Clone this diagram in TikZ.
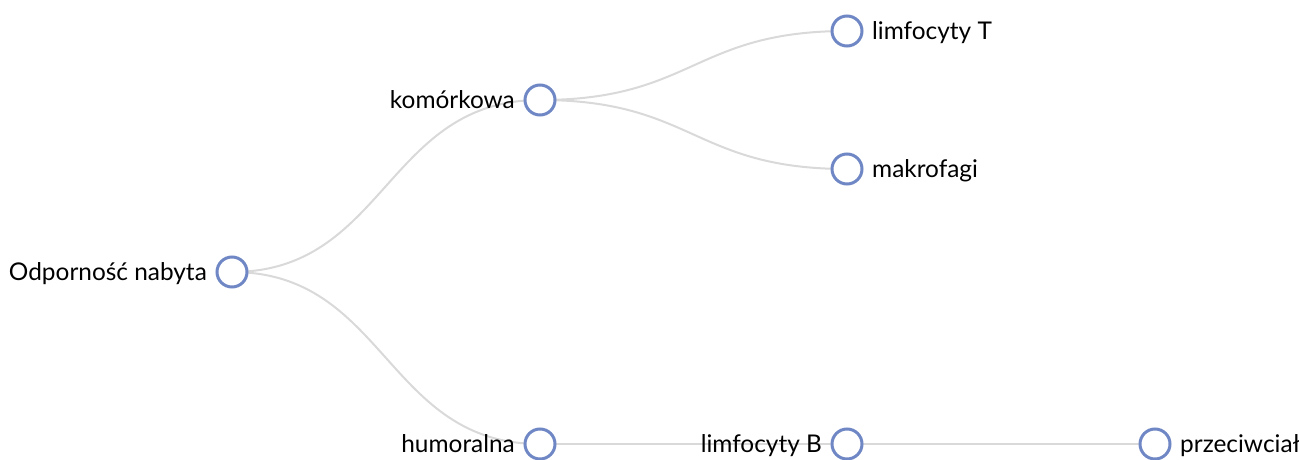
\documentclass[tikz,border=0pt]{standalone}
\usepackage{fontspec}
\setmainfont{Lato}
\usetikzlibrary{calc,backgrounds}
\definecolor{nodeblue}{RGB}{111,135,196}
\definecolor{linkgray}{RGB}{217,217,217}
\newcommand{\lbl}{\fontsize{24.4}{28}\selectfont}

\begin{document}
\begin{tikzpicture}[x=1pt,y=-1pt,
  dot/.style={circle,draw=nodeblue,fill=white,line width=3pt,minimum size=30pt,inner sep=0pt},
  lleft/.style={anchor=base east,inner sep=0pt,font=\lbl},
  lright/.style={anchor=base west,inner sep=0pt,font=\lbl},
  link/.style={draw=linkgray,line width=2pt},
  diag/.style={to path={let \p1=(\tikztostart), \p2=(\tikztotarget) in
    .. controls ({(\x1+\x2)/2},\y1) and ({(\x1+\x2)/2},\y2) .. (\tikztotarget)}}]
\useasboundingbox (0,0) rectangle (1299,460);
\clip (0,0) rectangle (1299,460);
%tree nodes
\node[dot] (root) at (232,272) {};
\node[dot] (cell) at (540,100) {};
\node[dot] (humo) at (540,444) {};
\node[dot] (tcell) at (847,31) {};
\node[dot] (macro) at (847,169) {};
\node[dot] (bcell) at (847,444) {};
\node[dot] (anti) at (1155,444) {};
%labels
\node[lleft] (troot) at (207,280.5) {Odporność nabyta};
\node[lleft] (tcell-l) at (515,108.5) {komórkowa};
\node[lleft] (thumo) at (515,452.5) {humoralna};
\node[lright] (ttcell) at (872,39.5) {limfocyty T};
\node[lright] (tmacro) at (872,177.5) {makrofagi};
\node[lleft] (tbcell) at (822,452.5) {limfocyty B};
\node[lright] (tanti) at (1180,452.5) {przeciwciała};
%links
\begin{scope}[on background layer]
\draw[link] (root.center) to[diag] (cell.center);
\draw[link] (root.center) to[diag] (humo.center);
\draw[link] (cell.center) to[diag] (tcell.center);
\draw[link] (cell.center) to[diag] (macro.center);
\draw[link] (humo.center) to[diag] (bcell.center);
\draw[link] (bcell.center) to[diag] (anti.center);
\end{scope}
\end{tikzpicture}
\end{document}
